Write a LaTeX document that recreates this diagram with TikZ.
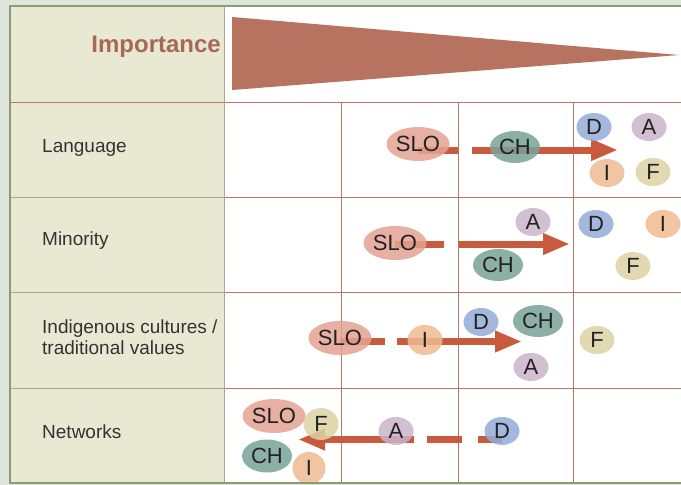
\documentclass[tikz,border=0pt]{standalone}
\usepackage{fontspec}
\setmainfont{Liberation Sans}
\usetikzlibrary{arrows.meta,shapes.geometric}
\pgfdeclarelayer{background}
\pgfsetlayers{background,main}
\definecolor{bgout}{HTML}{DEE5DB}
\definecolor{cream}{HTML}{E9E9D3}
\definecolor{framec}{HTML}{8E9A72}
\definecolor{gridc}{HTML}{B87868}
\definecolor{gridl}{HTML}{A9A892}
\definecolor{tric}{HTML}{B87360}
\definecolor{arrowc}{HTML}{C85A3E}
\definecolor{impc}{HTML}{A86858}
\definecolor{txtc}{HTML}{222222}
\definecolor{lblc}{HTML}{333333}
\definecolor{cSLO}{HTML}{E3A392}
\definecolor{cCH}{HTML}{79A297}
\definecolor{cD}{HTML}{93ACD6}
\definecolor{cA}{HTML}{CBB4CA}
\definecolor{cI}{HTML}{EFBA92}
\definecolor{cF}{HTML}{DED3A5}
\begin{document}
\begin{tikzpicture}[x=1pt,y=-1pt,
  bub/.style={ellipse, inner sep=0pt, fill opacity=0.85, text opacity=1, text=txtc, font=\fontsize{22}{24}\selectfont},
  bigb/.style={bub, minimum width=63pt, minimum height=34pt},
  midb/.style={bub, minimum width=50pt, minimum height=32pt},
  smlb/.style={bub, minimum width=35pt, minimum height=28pt},
  bigarrow/.style={draw=arrowc, line width=7pt, -{Triangle[length=27pt,width=20pt]}},
  rowlabel/.style={anchor=west, text=lblc, font=\fontsize{19}{21}\selectfont, align=left, inner sep=0pt},
  gridline/.style={draw=gridc, line width=1pt},
  gridleft/.style={draw=gridl, line width=1pt}]
\useasboundingbox (0,0) rectangle (681,485);
\begin{pgfonlayer}{background}
  \fill[bgout] (0,0) rectangle (681,485);
  \fill[cream] (10,6) rectangle (224,483);
  \fill[white] (224,6) rectangle (681,483);
  \fill[tric] (232,17) -- (232,90) -- (679,55) -- cycle;
  % horizontal lines
  \draw[gridline] (10,102) -- (681,102);
  \foreach \yy in {197,292,388} {
    \draw[gridleft] (10,\yy) -- (224,\yy);
    \draw[gridline] (224,\yy) -- (681,\yy);
  }
  \draw[gridleft] (224,6) -- (224,483);
  \foreach \xx in {341,458,573} {
    \draw[gridline] (\xx,102) -- (\xx,483);
  }
\end{pgfonlayer}

\node[anchor=east, text=impc, font=\bfseries\fontsize{24}{27}\selectfont, inner sep=0pt] (imp) at (221,47) {Importance};
\node[rowlabel] (lang) at (42,148) {Language};
\node[rowlabel] (mino) at (42,241) {Minority};
\node[rowlabel] (indi) at (42,337.5) {Indigenous cultures /\\traditional values};
\node[rowlabel] (netw) at (42,432) {Networks};

% row 1
\node[bigb, fill=cSLO] (SLO1) at (418,144) {SLO};
\node[midb, fill=cCH] (CH1) at (515,147) {CH};
\node[smlb, fill=cD] (D1) at (594,127) {D};
\node[smlb, fill=cA] (A1) at (649,127) {A};
\node[smlb, fill=cI] (I1) at (607,173) {I};
\node[smlb, fill=cF] (F1) at (653,172) {F};
% row 2
\node[bigb, fill=cSLO] (SLO2) at (395,243) {SLO};
\node[smlb, fill=cA] (A2) at (533,222) {A};
\node[midb, fill=cCH] (CH2) at (498,265) {CH};
\node[smlb, fill=cD] (D2) at (596,224) {D};
\node[smlb, fill=cI] (I2) at (663,224) {I};
\node[smlb, fill=cF] (F2) at (633,266) {F};
% row 3
\node[bigb, fill=cSLO] (SLO3) at (340,338) {SLO};
\node[smlb, fill=cI, minimum height=30pt] (I3) at (425,340) {I};
\node[smlb, fill=cD] (D3) at (481,322) {D};
\node[midb, fill=cCH] (CH3) at (538,321) {CH};
\node[smlb, fill=cA] (A3) at (531,367) {A};
\node[smlb, fill=cF] (F3) at (597,340) {F};
% row 4
\node[bigb, fill=cSLO] (SLO4) at (274,416) {SLO};
\node[smlb, fill=cF, minimum height=32pt] (F4) at (321,424) {F};
\node[midb, fill=cCH, minimum height=33pt] (CH4) at (267,456) {CH};
\node[smlb, fill=cI, minimum width=33pt, minimum height=32pt] (I4) at (309,468) {I};
\node[smlb, fill=cA] (A4) at (396,431) {A};
\node[smlb, fill=cD] (D4) at (502,431) {D};

\coordinate (t1) at (618,150);
\coordinate (t2) at (570,244);
\coordinate (t3) at (522,341.5);
\coordinate (t4) at (298,439.5);

\begin{pgfonlayer}{background}
  \draw[bigarrow, dash pattern=on 40pt off 14pt on 400pt off 1pt] (SLO1.center |- t1) -- (t1);
  \draw[bigarrow, dash pattern=on 49pt off 15pt on 400pt off 1pt] (SLO2.center |- t2) -- (t2);
  \draw[bigarrow, dash pattern=on 45pt off 12pt on 400pt off 1pt] (SLO3.center |- t3) -- (t3);
  \draw[bigarrow, dash pattern=on 24pt off 16pt on 35pt off 13pt on 400pt off 1pt] (D4.center |- t4) -- (t4);
\end{pgfonlayer}

\draw[draw=framec, line width=2pt] (681,6) -- (10,6) -- (10,483) -- (681,483);
\end{tikzpicture}
\end{document}
